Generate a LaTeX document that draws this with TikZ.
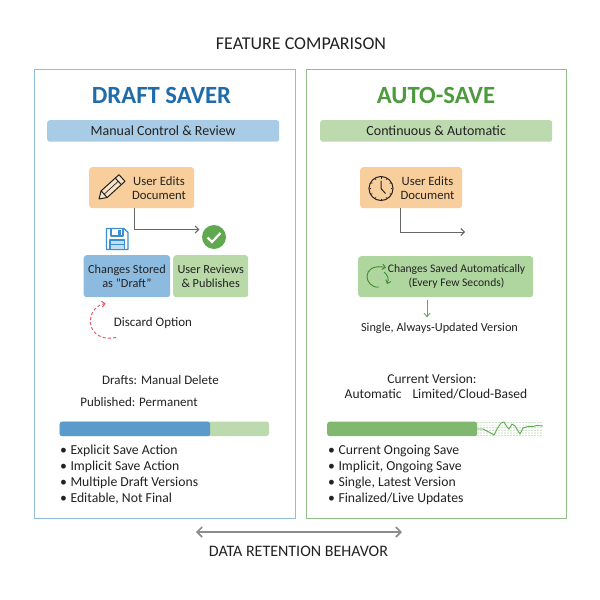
\documentclass[tikz,border=0pt]{standalone}
\usepackage{fontspec}
\setmainfont{Carlito}
\usetikzlibrary{arrows.meta}
\definecolor{bluepanel}{HTML}{8FBBDD}
\definecolor{greenpanel}{HTML}{93C08A}
\definecolor{blueband}{HTML}{A9CCE6}
\definecolor{greenband}{HTML}{BDDAAE}
\definecolor{orangebox}{HTML}{F8CF9C}
\definecolor{bluebox}{HTML}{8DBBE0}
\definecolor{greenbox}{HTML}{B9D9A8}
\definecolor{greensave}{HTML}{B0D6A0}
\definecolor{barblue}{HTML}{5B9BCB}
\definecolor{bargreen}{HTML}{7FB86E}
\definecolor{ink}{HTML}{222222}
\definecolor{titleblue}{HTML}{1F6CAB}
\definecolor{titlegreen}{HTML}{4E9A3E}
\definecolor{iconblue}{HTML}{3C8FD0}
\definecolor{checkgreen}{HTML}{5FA84F}
\definecolor{cyclegreen}{HTML}{3F8A35}
\definecolor{wire}{HTML}{666666}
\definecolor{discardred}{HTML}{E8505B}
\tikzset{
  x=1pt,y=-1pt,
  panel/.style={draw,line width=1.4pt,fill=white,minimum width=#1,minimum height=449,anchor=north west,inner sep=0},
  band/.style={fill=#1,rounded corners=2.5,minimum width=232,minimum height=21.5,anchor=north west,inner sep=0,text=ink,font=\fontsize{14}{16}\selectfont},
  flowbox/.style={fill=#1,rounded corners=3,anchor=north west,inner sep=0,text=ink,align=center,font=\fontsize{12.3}{14}\selectfont},
  plain/.style={text=ink,inner sep=0,font=\fontsize{13}{15}\selectfont},
  listing/.style={plain,anchor=west,font=\fontsize{13.7}{16}\selectfont},
  wirearrow/.style={draw=wire,line width=1pt,-{Straight Barb[length=3.5pt,width=7pt]}},
  bigtitle/.style={inner sep=0,font=\fontsize{24.7}{28}\selectfont\bfseries},
  caption/.style={inner sep=0,text=ink,font=\fontsize{18}{20}\selectfont},
}
\begin{document}
\begin{tikzpicture}
\useasboundingbox (0,0) rectangle (600,600);
\fill[white] (0,0) rectangle (600,600);
\node[caption] (maintitle) at (301,44) {FEATURE COMPARISON};
% panels
\node[panel=261.5,draw=bluepanel] (leftpanel) at (33.5,69) {};
\node[panel=260.5,draw=greenpanel] (rightpanel) at (305.5,69) {};
\node[bigtitle,text=titleblue] (lefttitle) at (161.5,95) {DRAFT SAVER};
\node[bigtitle,text=titlegreen] (righttitle) at (436,95) {AUTO-SAVE};
\node[band=blueband] (leftband) at (47,120) {Manual Control \& Review};
\node[band=greenband] (rightband) at (320,120) {Continuous \& Automatic};
% left flow
\node[flowbox=orangebox,minimum width=105,minimum height=41] (leftedit) at (89,167) {};
\node[plain,align=center,font=\fontsize{12.7}{14}\selectfont] (leftedittext) at (159,188) {User Edits\\Document};
\node[flowbox=bluebox,minimum width=86.5,minimum height=42] (stored) at (83.5,255) {Changes Stored\\as "Draft"};
\node[flowbox=greenbox,minimum width=75,minimum height=42] (reviews) at (173,255) {User Reviews\\\& Publishes};
% pencil
\begin{scope}[draw=ink,line width=1pt,line join=round]
  \draw[fill=orangebox!60!white] (99,199) -- (101.1,190.9) -- (119,174.7) -- (125,181.3) -- (107.2,197.5) -- cycle;
  \draw (115.2,178) -- (121.3,184.6);
  \draw (101.1,190.9) -- (107.2,197.5);
  \draw[line width=.7pt] (104.2,194.2) -- (118.2,181.3);
\end{scope}
% check
\node[circle,fill=checkgreen,minimum size=24,inner sep=0] (check) at (214,237) {};
\draw[white,line width=2.2pt] (207.5,237.5) -- (212,242) -- (220.5,233);
\draw[wirearrow,shorten >=2.5pt] (leftedit.south -| 134.5,0) |- (check.west |- 0,229.5) ;
% floppy
\begin{scope}[draw=iconblue,line width=1.1pt,line join=round]
  \draw[fill=white] (106.5,228.5) -- (124,228.5) -- (128,232.5) -- (128,249.5) -- (106.5,249.5) -- cycle;
  \draw (111,228.5) -- (111,236) -- (123,236) -- (123,228.5);
  \fill[iconblue] (118,230) rectangle (121,234.5);
  \draw[fill=bluebox!50] (110,240) rectangle (124.5,249.5);
  \draw (110,244.7) -- (124.5,244.7);
\end{scope}
% discard
\coordinate (discardend) at (105.5,303.5);
\coordinate (discardstart) at (116,337.5);
\draw[draw=discardred,line width=.9pt,dash pattern=on 3pt off 2.2pt,-{Straight Barb[length=3pt,width=6pt]}]
  (discardstart) .. controls (98,341) and (89,330) .. (90.5,319) .. controls (91.5,311) and (97,305) .. (discardend);
\node[plain] (discardtext) at (153,323.5) {Discard Option};
\node[plain] (drafts) at (160.5,380) {Drafts: Manual Delete};
\node[plain] (published) at (139,402) {Published: Permanent};
% left bar
\fill[greenband,rounded corners=2.5] (59.5,421.5) rectangle (269,436);
\node[fill=barblue,rounded corners=2.5,minimum width=150.5,minimum height=14.5,inner sep=0,anchor=north west] (leftbar) at (59.5,421.5) {};
\node[listing] (l1) at (60,450.5) {\textbullet\hspace{3.5pt}Explicit Save Action};
\node[listing] (l2) at (60,466.5) {\textbullet\hspace{3.5pt}Implicit Save Action};
\node[listing] (l3) at (60,482.5) {\textbullet\hspace{3.5pt}Multiple Draft Versions};
\node[listing] (l4) at (60,498.5) {\textbullet\hspace{3.5pt}Editable, Not Final};
% right flow
\node[flowbox=orangebox,minimum width=102,minimum height=41] (rightedit) at (360,167) {};
\node[plain,align=center,font=\fontsize{12.7}{14}\selectfont] (rightedittext) at (427.5,188) {User Edits\\Document};
\node[circle,draw=ink,line width=1pt,minimum size=24,inner sep=0] (clock) at (381,188.5) {};
\draw[ink,line width=1pt] (clock.center) ++(0,-8) -- (clock.center) -- ++(4.5,5);
\foreach \a in {0,30,...,330}{\draw[ink,line width=.6pt] (clock.center) ++(\a:10) -- ++(\a:1.2);}
\coordinate (rightarrowend) at (465,232);
\draw[wirearrow] (rightedit.south -| 400,0) |- (rightarrowend);
\node[flowbox=greensave,minimum width=175,minimum height=41] (saved) at (358,256) {};
\node[plain,align=center,font=\fontsize{11.6}{13.5}\selectfont] (savedtext) at (456.5,276.5) {Changes Saved Automatically\\(Every Few Seconds)};
\begin{scope}[draw=cyclegreen,line width=.9pt]
  \draw[-{Straight Barb[length=3pt,width=5.5pt]}] (379,287) .. controls (372,288) and (367,282) .. (367,276.5) .. controls (367,270) and (373,265) .. (386,267.5);
  \draw[-{Straight Barb[length=3pt,width=5.5pt]}] (384,272) .. controls (388,275) and (389,279) .. (387,284);
\end{scope}
\node[plain,font=\fontsize{12.3}{15}\selectfont] (single) at (439.5,328) {Single, Always-Updated Version};
\draw[draw=checkgreen,line width=.9pt,-{Straight Barb[length=3.5pt,width=6pt]}] (saved.south -| 427,0) ++(0,3) -- ++(0,17);
\node[plain,font=\fontsize{13.5}{15}\selectfont] (current) at (432,379) {Current Version:};
\node[plain,font=\fontsize{13.5}{15}\selectfont] (automatic) at (436,394) {Automatic\hspace{8pt} Limited/Cloud-Based};
% right bar
\foreach \i in {0,...,21}{\foreach \j in {0,...,5}{
  \fill[checkgreen!65] (478+\i*3,422.5+\j*2.6) circle[radius=.6];}}
\node[fill=bargreen,rounded corners=2.5,minimum width=150,minimum height=14.5,inner sep=0,anchor=north west] (rightbar) at (327,421.5) {};
\draw[checkgreen,line width=.9pt,line join=round] (rightbar.east) -- (483,429) -- (489,432) -- (494,435) -- (497,429) -- (501,423) -- (504,422) -- (507,427) -- (509,429) -- (512,424) -- (515,426) -- (518,431) -- (520,434) -- (523,428) -- (528,426.5) -- (533,426.5) -- (537,425.5) -- (543,426);
\node[listing] (r1) at (328,450.5) {\textbullet\hspace{3.5pt}Current Ongoing Save};
\node[listing] (r2) at (328,466.5) {\textbullet\hspace{3.5pt}Implicit, Ongoing Save};
\node[listing] (r3) at (328,482.5) {\textbullet\hspace{3.5pt}Single, Latest Version};
\node[listing] (r4) at (328,498.5) {\textbullet\hspace{3.5pt}Finalized/Live Updates};
% bottom
\coordinate (retleft) at (196,532);
\coordinate (retright) at (402,532);
\draw[draw=black!45,line width=1.6pt,{Straight Barb[length=5pt,width=10pt]}-{Straight Barb[length=5pt,width=10pt]}] (retleft) -- (retright);
\node[caption,font=\fontsize{16}{18}\selectfont] (retention) at (298.5,551) {DATA RETENTION BEHAVOR};
\end{tikzpicture}
\end{document}
